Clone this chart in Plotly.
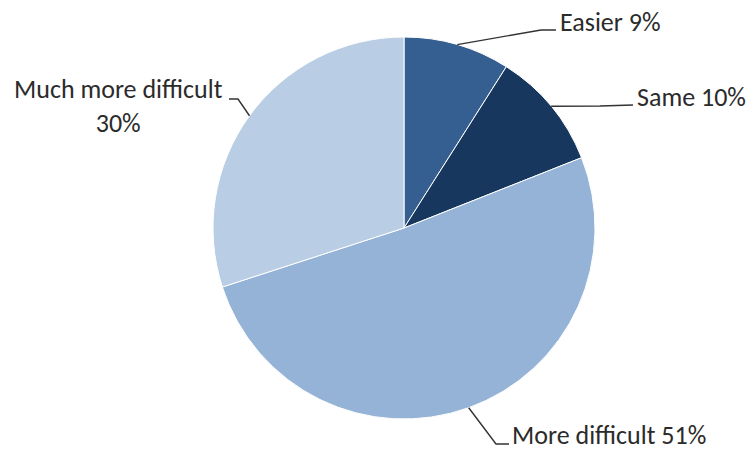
import math
import plotly.graph_objects as go

# Data
categories = ["Easier", "Same", "More difficult", "Much more difficult"]
values = [9, 10, 51, 30]
colors = ["#355f91", "#17375e", "#95b3d7", "#b9cde5"]

W, H = 749, 450
CX, CY, R = 404, 228, 191  # pie centre / radius in px


def px(x):
    return x / W


def py(y):
    return 1 - y / H


fig = go.Figure(
    go.Pie(
        labels=categories,
        values=values,
        sort=False,
        direction="clockwise",
        rotation=0,
        marker=dict(colors=colors, line=dict(color="white", width=1)),
        textinfo="none",
        hoverinfo="label+percent",
        domain=dict(x=[px(CX - R), px(CX + R)], y=[py(CY + R), py(CY - R)]),
        showlegend=False,
    )
)

# label layout (px): elbow point, end point, text anchor
label_layout = {
    "Easier": dict(elbow=(541, 30), end=(556, 30), text=(558, 22), align="left", xanchor="left"),
    "Same": dict(elbow=(600, 106), end=(633, 105), text=(635, 97), align="left", xanchor="left"),
    "More difficult": dict(elbow=(496, 444), end=(509, 444), text=(510, 435), align="left", xanchor="left"),
    "Much more difficult": dict(elbow=(238, 99), end=(229, 99), text=(119, 106), align="center", xanchor="center"),
}

total = sum(values)
cum = 0
shapes = []
annotations = []
for cat, v in zip(categories, values):
    mid = (cum + v / 2) / total * 2 * math.pi
    cum += v
    sx = CX + R * math.sin(mid)
    sy = CY - R * math.cos(mid)
    lay = label_layout[cat]
    ex, ey = lay["elbow"]
    tx, ty = lay["end"]
    path = f"M {px(sx)},{py(sy)} L {px(ex)},{py(ey)} L {px(tx)},{py(ty)}"
    shapes.append(dict(type="path", xref="paper", yref="paper", path=path,
                       line=dict(color="#333333", width=1.4)))
    pct = round(v / total * 100)
    if cat == "Much more difficult":
        txt = f"{cat}<br>{pct}%"
    else:
        txt = f"{cat} {pct}%"
    ax, ay = lay["text"]
    annotations.append(dict(x=px(ax), y=py(ay), xref="paper", yref="paper", text=txt,
                            showarrow=False, xanchor=lay["xanchor"], yanchor="middle",
                            align=lay["align"],
                            font=dict(family="Carlito, Lato, sans-serif", size=26, color="#2b2b2b")))

fig.update_layout(
    width=W, height=H,
    margin=dict(l=0, r=0, t=0, b=0),
    paper_bgcolor="white",
    plot_bgcolor="white",
    shapes=shapes,
    annotations=annotations,
)

fig.write_html("out.html", config={"displayModeBar": False},
               post_script="document.body.style.margin='0';document.body.style.overflow='hidden';")
